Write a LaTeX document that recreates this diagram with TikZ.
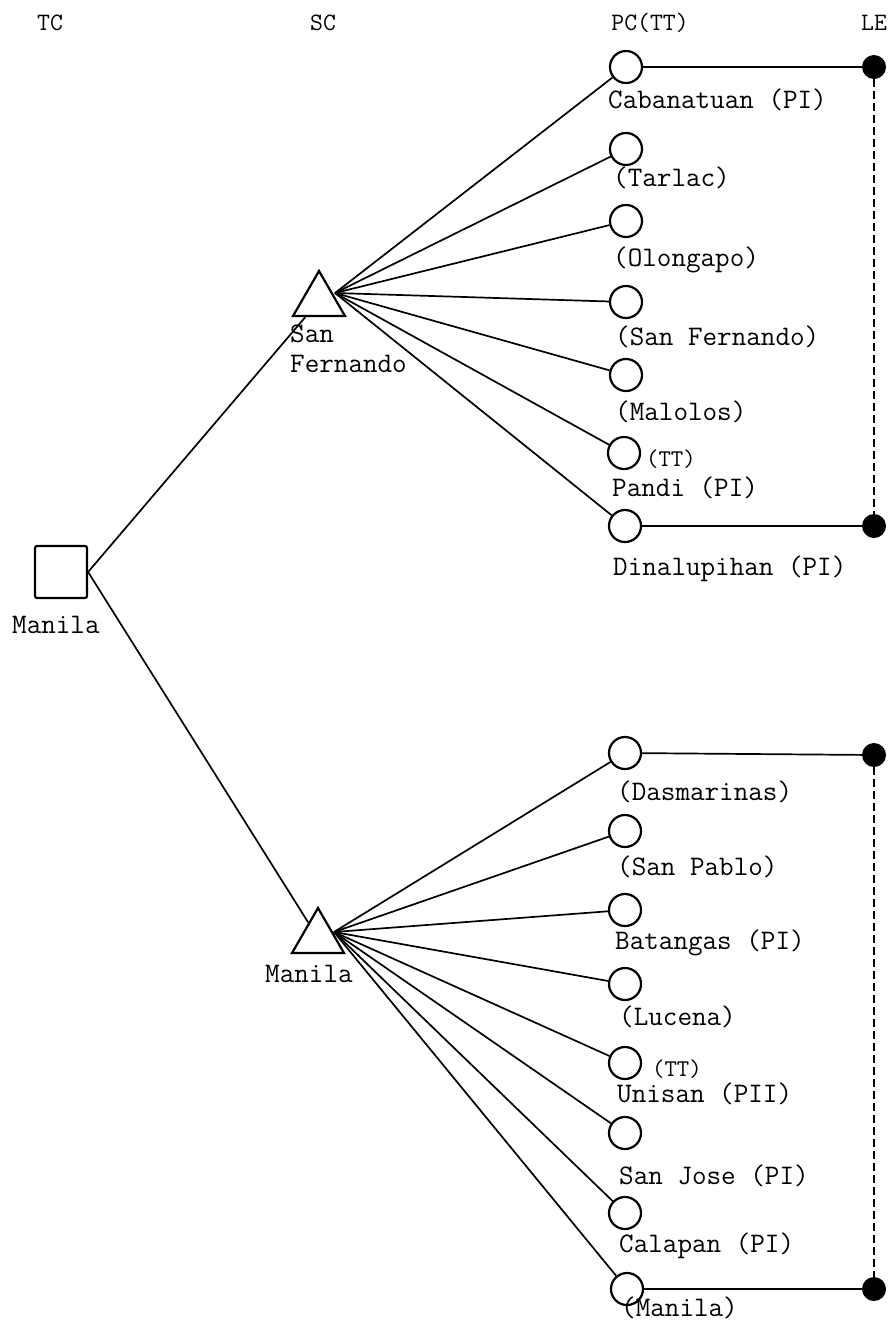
\documentclass[tikz,border=0pt]{standalone}
\usetikzlibrary{shapes.geometric}
\newcommand\lbfont{\ttfamily\fontsize{28.3}{28.3}\selectfont}
\newcommand\ttsmall{\ttfamily\fontsize{24}{24}\selectfont}
\newcommand\hdfont{\ttfamily\fontsize{25}{25}\selectfont}
\tikzset{
  pcnode/.style={circle, draw, line width=2.2pt, minimum size=32pt, inner sep=0pt},
  lenode/.style={circle, fill, minimum size=24pt, inner sep=0pt},
  scnode/.style={regular polygon, regular polygon sides=3, draw, line width=2.2pt, minimum size=60pt, inner sep=0pt},
  tcnode/.style={rectangle, draw, line width=2.2pt, minimum size=52pt, inner sep=0pt, rounded corners=2pt},
  lbl/.style={anchor=base west, inner sep=0pt, font=\lbfont},
  ttlbl/.style={anchor=base west, inner sep=0pt, font=\ttsmall},
  hd/.style={anchor=base, inner sep=0pt, font=\hdfont},
  conn/.style={line width=1.7pt},
  lelink/.style={line width=1.9pt, dash pattern=on 8pt off 4pt}
}
\begin{document}
\begin{tikzpicture}[x=1pt,y=-1pt]
\useasboundingbox (0,0) rectangle (890,1326);
% headers
\node[hd] (hTC) at (50,30) {TC};
\node[hd] (hSC) at (323,30) {SC};
\node[hd] (hPC) at (650,30) {PC(TT)};
\node[hd] (hLE) at (874,30) {LE};
% TC
\node[tcnode] (sq) at (61,572) {};
\node[lbl] (sqL) at (12,633) {Manila};
% SC nodes
\node[scnode] (triA) at (319,301) {};
\node[scnode] (triB) at (318,938) {};
\coordinate (hubA) at (335,293);
\coordinate (hubB) at (334,932);
\node[lbl] (triAL1) at (290,342) {San};
\node[lbl] (triAL2) at (290,372) {Fernando};
\node[lbl] (triBL) at (265,982) {Manila};
\draw[conn] (sq.east) -- (triA);
\draw[conn] (sq.east) -- (triB);
% top PCs
\node[pcnode] (c1) at (626,67) {};
\node[pcnode] (c2) at (626,149) {};
\node[pcnode] (c3) at (626,221) {};
\node[pcnode] (c4) at (626,302) {};
\node[pcnode] (c5) at (626,375) {};
\node[pcnode] (c6) at (624,453) {};
\node[pcnode] (c7) at (625,526) {};
\node[lbl] (c1L) at (608,108) {Cabanatuan (PI)};
\node[lbl] (c2L) at (613,186) {(Tarlac)};
\node[lbl] (c3L) at (613,266) {(Olongapo)};
\node[lbl] (c4L) at (615,345) {(San Fernando)};
\node[lbl] (c5L) at (615,420) {(Malolos)};
\node[ttlbl] (c6T) at (646,466) {(TT)};
\node[lbl] (c6L) at (612,496) {Pandi (PI)};
\node[lbl] (c7L) at (613,575) {Dinalupihan (PI)};
\foreach \n in {c1,c2,c3,c4,c5,c6,c7} \draw[conn] (hubA) -- (\n);
% bottom PCs
\node[pcnode] (d1) at (625,753) {};
\node[pcnode] (d2) at (625,831) {};
\node[pcnode] (d3) at (625,910) {};
\node[pcnode] (d4) at (625,984) {};
\node[pcnode] (d5) at (625,1063) {};
\node[pcnode] (d6) at (625,1133) {};
\node[pcnode] (d7) at (625,1213) {};
\node[pcnode] (d8) at (627,1289) {};
\node[lbl] (d1L) at (617,800) {(Dasmarinas)};
\node[lbl] (d2L) at (617,875) {(San Pablo)};
\node[lbl] (d3L) at (615,949) {Batangas (PI)};
\node[lbl] (d4L) at (619,1025) {(Lucena)};
\node[ttlbl] (d5T) at (652,1076) {(TT)};
\node[lbl] (d5L) at (617,1102) {Unisan (PII)};
\node[lbl] (d6L) at (619,1184) {San Jose (PI)};
\node[lbl] (d7L) at (619,1252) {Calapan (PI)};
\node[lbl] (d8L) at (621,1316) {(Manila)};
\foreach \n in {d1,d2,d3,d4,d5,d6,d7,d8} \draw[conn] (hubB) -- (\n);
% LE
\node[lenode] (e1) at (874,67) {};
\node[lenode] (e2) at (874,526) {};
\node[lenode] (e3) at (874,755) {};
\node[lenode] (e4) at (874,1289) {};
\draw[conn] (c1) -- (e1);
\draw[conn] (c7) -- (e2);
\draw[conn] (d1) -- (e3);
\draw[conn] (d8) -- (e4);
\draw[lelink] (e1) -- (e2);
\draw[lelink] (e3) -- (e4);
\end{tikzpicture}
\end{document}
